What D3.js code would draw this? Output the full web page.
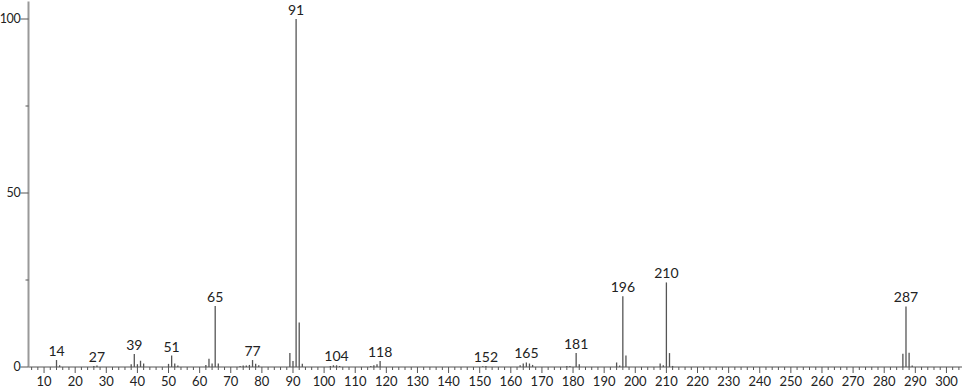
<!DOCTYPE html>
<html>
<head>
<meta charset="utf-8">
<script src="https://cdn.jsdelivr.net/npm/d3@7"></script>
<style>
  body { margin: 0; background: #fff; }
  text { font-family: Lato, "DejaVu Sans", sans-serif; fill: #222; }
</style>
</head>
<body>
<script>
// peaks: m/z and relative intensity
const mz = [14, 15, 26, 27, 38, 39, 40, 41, 42, 50, 51, 52, 53, 62, 63, 64, 65, 66,
  73, 74, 75, 76, 77, 78, 79, 89, 90, 91, 92, 93, 102, 103, 104, 105,
  115, 116, 117, 118, 151, 152, 163, 164, 165, 166, 167, 178, 179, 181, 182,
  194, 195, 196, 197, 208, 209, 210, 211, 212, 286, 287, 288, 289];
const intensity = [2.0, 0.5, 0.3, 0.4, 0.8, 3.7, 0.8, 1.8, 1.0, 0.9, 3.3, 1.0, 0.4, 0.6, 2.4, 1.0, 17.5, 1.0,
  0.3, 0.4, 0.4, 0.6, 2.0, 0.9, 0.5, 4.0, 1.7, 100, 12.8, 0.9, 0.3, 0.5, 0.5, 0.3,
  0.3, 0.5, 0.8, 1.7, 0.2, 0.3, 0.5, 1.0, 1.3, 1.0, 0.6, 0.3, 0.3, 4.0, 0.8,
  1.3, 0.4, 20.3, 3.3, 1.0, 0.5, 24.3, 4.0, 0.3, 3.8, 17.4, 4.1, 0.4];
const labelled = [14, 27, 39, 51, 65, 77, 91, 104, 118, 152, 165, 181, 196, 210, 287];
const xTicks = d3.range(10, 301, 10);
const yTicks = [0, 25, 50, 75, 100];
const yLabels = [0, 50, 100];

const width = 966, height = 389;
const svg = d3.select('body').append('svg')
  .attr('width', width).attr('height', height);

const x = d3.scaleLinear().domain([5, 305]).range([28.5, 962]);
const y = d3.scaleLinear().domain([0, 105]).range([367, 1.6]);

const peaks = mz.map((m, i) => ({m: m, v: intensity[i]}));

// x axis
const xAxis = svg.append('g').attr('transform', `translate(0,${y(0)})`);
xAxis.append('line')
  .attr('x1', x(5)).attr('x2', x(305))
  .attr('stroke', '#555').attr('stroke-width', 1);
xAxis.selectAll('line.minor').data(d3.range(6, 305, 2).filter(d => d % 10 != 0))
  .join('line').attr('class', 'minor')
  .attr('x1', d => x(d)).attr('x2', d => x(d))
  .attr('y1', 0).attr('y2', 3)
  .attr('stroke', '#555');
xAxis.selectAll('line.major').data(xTicks)
  .join('line').attr('class', 'major')
  .attr('x1', d => x(d)).attr('x2', d => x(d))
  .attr('y1', 0).attr('y2', 6)
  .attr('stroke', '#555');
xAxis.selectAll('text').data(xTicks)
  .join('text')
  .attr('x', d => x(d)).attr('y', 19)
  .attr('text-anchor', 'middle')
  .attr('font-size', 13)
  .text(d => d);

// y axis
const yAxis = svg.append('g');
yAxis.append('line')
  .attr('x1', x(5)).attr('x2', x(5))
  .attr('y1', y(0)).attr('y2', y(105))
  .attr('stroke', '#999').attr('stroke-width', 2);
yAxis.selectAll('line.tick').data(yTicks)
  .join('line').attr('class', 'tick')
  .attr('x1', d => yLabels.includes(d) ? x(5) - 8 : x(5) - 3)
  .attr('x2', x(5))
  .attr('y1', d => y(d)).attr('y2', d => y(d))
  .attr('stroke', '#555');
yAxis.selectAll('text').data(yLabels)
  .join('text')
  .attr('x', x(5) - 8).attr('y', d => y(d))
  .attr('dy', '0.35em')
  .attr('text-anchor', 'end')
  .attr('font-size', 12.5)
  .attr('letter-spacing', -0.3)
  .text(d => d);

// peaks
svg.append('g').selectAll('line').data(peaks)
  .join('line')
  .attr('x1', d => x(d.m)).attr('x2', d => x(d.m))
  .attr('y1', y(0)).attr('y2', d => y(d.v))
  .attr('stroke', '#555').attr('stroke-width', 1.3);

svg.append('g').selectAll('text').data(peaks.filter(d => labelled.includes(d.m)))
  .join('text')
  .attr('x', d => x(d.m)).attr('y', d => y(d.v) - 4)
  .attr('text-anchor', 'middle')
  .attr('font-size', 14)
  .text(d => d.m);
</script>
</body>
</html>
